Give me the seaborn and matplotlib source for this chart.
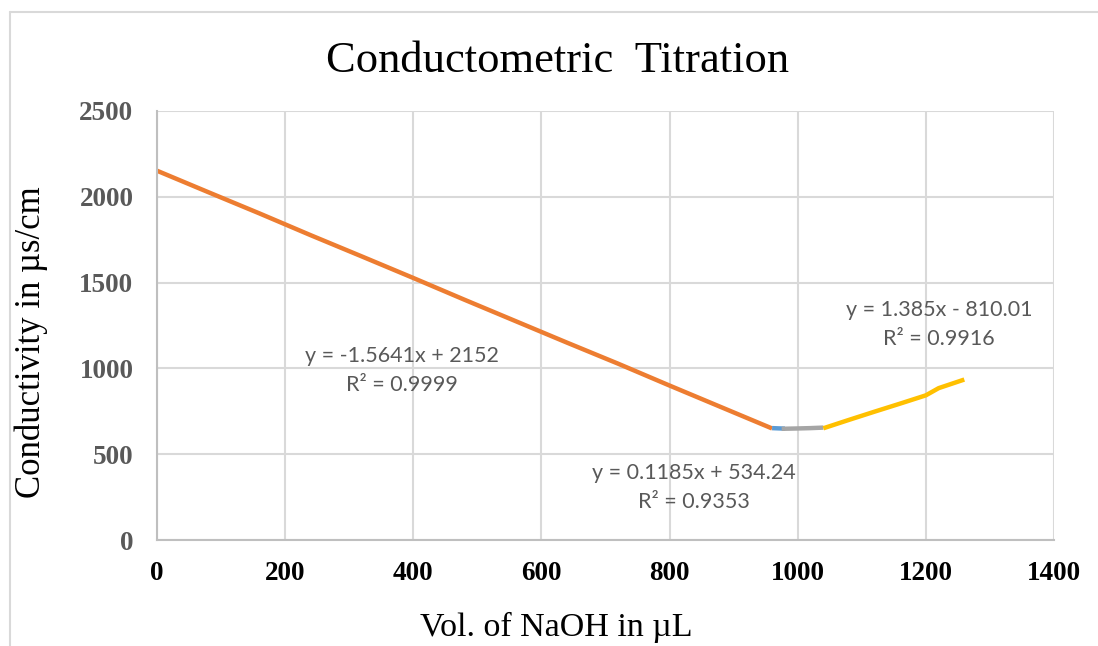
import matplotlib
matplotlib.use("Agg")
import matplotlib.pyplot as plt
import seaborn as sns
import pandas as pd
from matplotlib.lines import Line2D

# ---- data ----
acid_x = [0, 80, 160, 240, 320, 400, 480, 560, 640, 720, 800, 880, 960]
acid_y = [2152, 2027, 1903, 1776, 1652, 1527, 1400, 1275, 1150, 1027, 900, 775, 650]
equiv_x = [960, 980]
equiv_y = [652, 649]
plateau_x = [975, 1000, 1020, 1040]
plateau_y = [648, 650, 652, 655]
base_x = [1040, 1080, 1120, 1160, 1200, 1220, 1260]
base_y = [651, 700, 748, 795, 843, 885, 935]

fit_labels = ["y = -1.5641x + 2152\nR² = 0.9999",
              "y = 0.1185x + 534.24\nR² = 0.9353",
              "y = 1.385x - 810.01\nR² = 0.9916"]

x_ticks = [0, 200, 400, 600, 800, 1000, 1200, 1400]
y_ticks = [0, 500, 1000, 1500, 2000, 2500]

colors = ["#ED7D31", "#5B9BD5", "#A5A5A5", "#FFC000"]

sns.set_theme(style="white")
plt.rcParams["font.family"] = ["Liberation Serif", "DejaVu Serif"]

fig = plt.figure(figsize=(10.98, 6.46), dpi=100)
ax = fig.add_axes([157/1098, 1-540/646, (1054-157)/1098, (540-111)/646])

series = [(acid_x, acid_y, colors[0]), (equiv_x, equiv_y, colors[1]),
          (plateau_x, plateau_y, colors[2]), (base_x, base_y, colors[3])]
for xs, ys, c in series:
    df = pd.DataFrame({"x": xs, "y": ys})
    sns.lineplot(data=df, x="x", y="y", ax=ax, color=c, lw=3.2, sort=False,
                 estimator=None, solid_capstyle="butt")

ax.set_xlim(0, 1400)
ax.set_ylim(0, 2500)
ax.set_xticks(x_ticks)
ax.set_yticks(y_ticks)
ax.set_xticklabels([str(v) for v in x_ticks], fontsize=19.5, fontweight="bold", color="black")
ax.set_yticklabels([str(v) for v in y_ticks], fontsize=19.5, fontweight="bold", color="#595959")
ax.tick_params(axis="both", length=0)
ax.tick_params(axis="x", pad=15)
ax.tick_params(axis="y", pad=17)
ax.grid(True, color="#D9D9D9", lw=1.5)
ax.set_axisbelow(True)
for s in ["top", "right"]:
    ax.spines[s].set_visible(False)
for s in ["left", "bottom"]:
    ax.spines[s].set_color("#BFBFBF")
    ax.spines[s].set_linewidth(1.5)

ax.set_xlabel("")
ax.set_ylabel("")
fig.text(556/1098, 1-627/646, "Vol. of NaOH in µL", fontsize=24.5, color="black",
         ha="center", va="center")
fig.text(31/1098, 1-342/646, "Conductivity in µs/cm", fontsize=25, color="black",
         ha="center", va="center", rotation=90)
fig.text(558/1098, 1-61/646, "Conductometric  Titration", fontsize=32,
         ha="center", va="center", color="black")

label_pos = [(403, 990), (695, 304), (941, 1256)]
for txt, (px, vy) in zip(fit_labels, label_pos):
    vx = (px - 157) / 128.5 * 200
    ax.text(vx, vy, txt, fontsize=15.5, color="#595959", ha="center", va="center",
            family=["Lato", "DejaVu Sans"], linespacing=1.55)

# outer chart-area frame
fig.add_artist(Line2D([9.5/1098, 9.5/1098], [0, 1-12/646], transform=fig.transFigure,
                      color="#D9D9D9", lw=1.5))
fig.add_artist(Line2D([9.5/1098, 1], [1-12/646, 1-12/646], transform=fig.transFigure,
                      color="#D9D9D9", lw=1.5))

fig.savefig("out.png", dpi=100)
